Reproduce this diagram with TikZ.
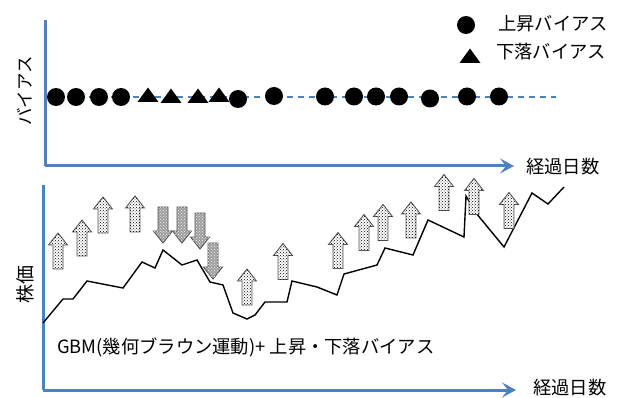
\documentclass[tikz,border=0pt]{standalone}
\usepackage{fontspec}
\setmainfont{Noto Sans CJK JP}
\usetikzlibrary{arrows.meta,patterns}
\definecolor{axisblue}{RGB}{79,129,189}
\definecolor{upline}{RGB}{90,90,90}
\definecolor{downfill}{RGB}{160,160,160}
\definecolor{downline}{RGB}{80,80,80}
\tikzset{
  axisline/.style={draw=axisblue,line width=3pt,-{Stealth[length=14pt,width=15pt,inset=6pt]}},
  baseaxis/.style={draw=axisblue,line width=3pt},
  dashline/.style={draw=axisblue,line width=1.6pt,dash pattern=on 6pt off 5pt},
  bigdot/.style={circle,fill=black,minimum size=18pt,inner sep=0pt},
  lbl/.style={font=\fontsize{18.3}{21}\selectfont,inner sep=0pt},
  upblock/.style={draw=upline,line width=0.9pt,fill=white,postaction={pattern=crosshatch dots,pattern color=black}},
  downblock/.style={draw=downline,line width=0.9pt,fill=downfill,postaction={pattern=crosshatch dots,pattern color=white!85!gray}},
  pricepath/.style={draw=black,line width=1.4pt,line join=miter},
  uparr/.pic={\path[upblock] (-5,18) -- (-5,-6) -- (-9.5,-6) -- (0,-18) -- (9.5,-6) -- (5,-6) -- (5,18) -- cycle;},
  downarr/.pic={\path[downblock] (-5,-18) -- (-5,6) -- (-9.5,6) -- (0,18) -- (9.5,6) -- (5,6) -- (5,-18) -- cycle;},
  trimark/.pic={\fill[black] (-10.5,7) -- (0,-7.5) -- (10.5,7) -- cycle;},
}
\begin{document}
\begin{tikzpicture}[x=1pt,y=-1pt]
\useasboundingbox (0,0) rectangle (618,398);
% ---------- top panel ----------
\coordinate (tyTop) at (45,20);
\coordinate (tOrig) at (45,166);
\coordinate (txEnd) at (514,166);
\coordinate (dStart) at (45,97);
\coordinate (dEnd) at (556,97);
\draw[dashline] (dStart) -- (dEnd);
\draw[baseaxis] (tyTop) -- (tOrig);
\draw[axisline] (tOrig) -- (txEnd);
\node[lbl,anchor=west] (tlab) at (526,167) {経過日数};
\node[lbl,rotate=90,font=\fontsize{17.5}{20}\selectfont] (ylab1) at (25,91) {バイアス};
% markers
\node[bigdot] (c1) at (56,97) {};
\node[bigdot] (c2) at (76,97) {};
\node[bigdot] (c3) at (99,97) {};
\node[bigdot] (c4) at (121,97) {};
\pic (t1) at (148,95) {trimark};
\pic (t2) at (171,96) {trimark};
\pic (t3) at (198,96) {trimark};
\pic (t4) at (219,95) {trimark};
\node[bigdot] (c5) at (238,99) {};
\node[bigdot] (c6) at (274,96) {};
\node[bigdot] (c7) at (325,96.5) {};
\node[bigdot] (c8) at (354,96.5) {};
\node[bigdot] (c9) at (376,96.5) {};
\node[bigdot] (c10) at (399,96.5) {};
\node[bigdot] (c11) at (430,98.5) {};
\node[bigdot] (c12) at (467,96.5) {};
\node[bigdot] (c13) at (499,96.5) {};
% legend
\node[bigdot] (lc) at (466,25) {};
\node[lbl,anchor=west] (lct) at (498,24) {上昇バイアス};
\pic (lt) at (470,56) {trimark};
\node[lbl,anchor=west] (ltt) at (496,52) {下落バイアス};
% ---------- bottom panel ----------
\coordinate (byTop) at (43,185);
\coordinate (bOrig) at (43,390);
\coordinate (bxEnd) at (516,390);
\draw[baseaxis] (byTop) -- (bOrig);
\draw[axisline] (bOrig) -- (bxEnd);
\node[lbl,anchor=west] (blab) at (533,387.5) {経過日数};
\node[lbl,rotate=90,font=\fontsize{19}{21}\selectfont] (ylab2) at (25,284) {株価};
% price path
\draw[pricepath] (43,323) -- (63,299) -- (73,299) -- (87,281) -- (123,288) -- (142,262) -- (155,268) -- (163,250) -- (182,265) -- (197,260) -- (210,282) -- (223,285) -- (233,313) -- (247,319) -- (255,315) -- (265,302) -- (287,302) -- (292,281) -- (317,287) -- (337,295) -- (344,274) -- (377,265) -- (385,248) -- (413,255) -- (428,220) -- (464,237) -- (466,196) -- (476,213) -- (504,247) -- (532,193) -- (548,204) -- (564,187);
% bias arrows
\pic (u1) at (58,251) {uparr};
\pic (u2) at (82,238) {uparr};
\pic (u3) at (103,215) {uparr};
\pic (u4) at (135,214) {uparr};
\pic (d1) at (163,225) {downarr};
\pic (d2) at (182,225) {downarr};
\pic (d3) at (200,231) {downarr};
\pic (d4) at (213,261) {downarr};
\pic (u5) at (247,287) {uparr};
\pic (u6) at (283,261.5) {uparr};
\pic (u7) at (338,250.5) {uparr};
\pic (u8) at (364,232.5) {uparr};
\pic (u9) at (383,222.5) {uparr};
\pic (u10) at (411,220) {uparr};
\pic (u11) at (444,192.5) {uparr};
\pic (u12) at (474,196.5) {uparr};
\pic (u13) at (509,210.5) {uparr};
\node[lbl,anchor=west] (cap) at (57,347) {GBM(幾何ブラウン運動)+ 上昇・下落バイアス};
\end{tikzpicture}
\end{document}
